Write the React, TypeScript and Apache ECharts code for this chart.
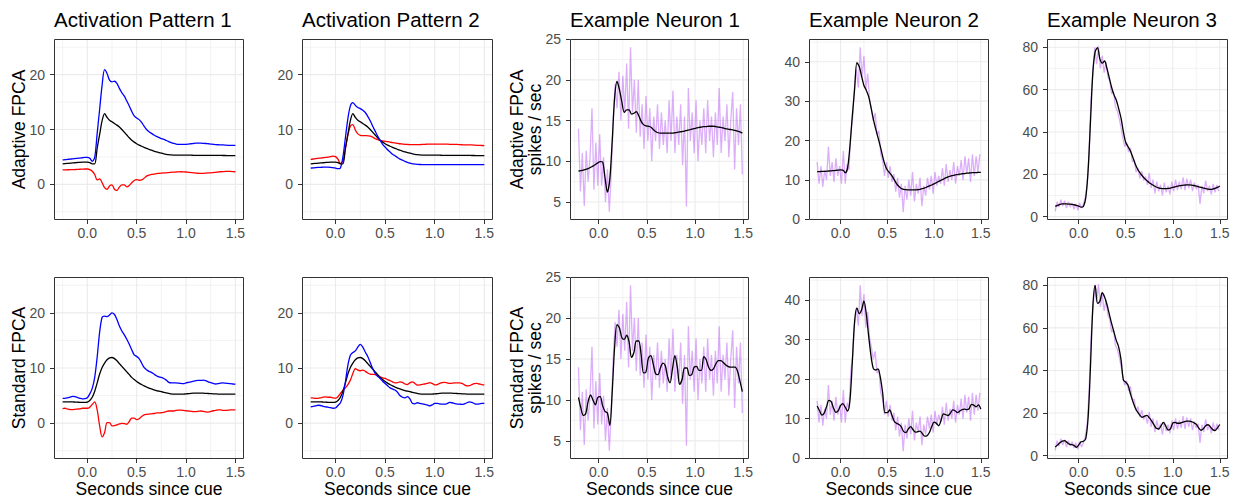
import React, { useEffect, useRef } from "react";
import * as echarts from "echarts";

// ---------- time grids ----------
const T = [-0.25, -0.225, -0.2, -0.175, -0.15, -0.125, -0.1, -0.075, -0.05, -0.025, 0, 0.025, 0.05, 0.075, 0.1, 0.125, 0.15, 0.175, 0.2, 0.225, 0.25, 0.275, 0.3, 0.325, 0.35, 0.375, 0.4, 0.425, 0.45, 0.475, 0.5, 0.525, 0.55, 0.575, 0.6, 0.625, 0.65, 0.675, 0.7, 0.725, 0.75, 0.775, 0.8, 0.825, 0.85, 0.875, 0.9, 0.925, 0.95, 0.975, 1, 1.025, 1.05, 1.075, 1.1, 1.125, 1.15, 1.175, 1.2, 1.225, 1.25, 1.275, 1.3, 1.325, 1.35, 1.375, 1.4, 1.425, 1.45, 1.475, 1.5];
const T1 = [-0.21, -0.185, -0.16, -0.135, -0.11, -0.085, -0.06, -0.035, -0.01, 0.015, 0.04, 0.065, 0.09, 0.115, 0.14, 0.165, 0.19, 0.215, 0.24, 0.265, 0.29, 0.315, 0.34, 0.365, 0.39, 0.415, 0.44, 0.465, 0.49, 0.515, 0.54, 0.565, 0.59, 0.615, 0.64, 0.665, 0.69, 0.715, 0.74, 0.765, 0.79, 0.815, 0.84, 0.865, 0.89, 0.915, 0.94, 0.965, 0.99, 1.015, 1.04, 1.065, 1.09, 1.115, 1.14, 1.165, 1.19, 1.215, 1.24, 1.265, 1.29, 1.315, 1.34, 1.365, 1.39, 1.415, 1.44, 1.465, 1.49];
const TR = [-0.25, -0.23, -0.21, -0.19, -0.17, -0.15, -0.13, -0.11, -0.09, -0.07, -0.05, -0.03, -0.01, 0.01, 0.03, 0.05, 0.07, 0.09, 0.11, 0.13, 0.15, 0.17, 0.19, 0.21, 0.23, 0.25, 0.27, 0.29, 0.31, 0.33, 0.35, 0.37, 0.39, 0.41, 0.43, 0.45, 0.47, 0.49, 0.51, 0.53, 0.55, 0.57, 0.59, 0.61, 0.63, 0.65, 0.67, 0.69, 0.71, 0.73, 0.75, 0.77, 0.79, 0.81, 0.83, 0.85, 0.87, 0.89, 0.91, 0.93, 0.95, 0.97, 0.99, 1.01, 1.03, 1.05, 1.07, 1.09, 1.11, 1.13, 1.15, 1.17, 1.19, 1.21, 1.23, 1.25, 1.27, 1.29, 1.31, 1.33, 1.35, 1.37, 1.39, 1.41, 1.43, 1.45, 1.47, 1.49];
const TR1 = [-0.21, -0.19, -0.17, -0.15, -0.13, -0.11, -0.09, -0.07, -0.05, -0.03, -0.01, 0.01, 0.03, 0.05, 0.07, 0.09, 0.11, 0.13, 0.15, 0.17, 0.19, 0.21, 0.23, 0.25, 0.27, 0.29, 0.31, 0.33, 0.35, 0.37, 0.39, 0.41, 0.43, 0.45, 0.47, 0.49, 0.51, 0.53, 0.55, 0.57, 0.59, 0.61, 0.63, 0.65, 0.67, 0.69, 0.71, 0.73, 0.75, 0.77, 0.79, 0.81, 0.83, 0.85, 0.87, 0.89, 0.91, 0.93, 0.95, 0.97, 0.99, 1.01, 1.03, 1.05, 1.07, 1.09, 1.11, 1.13, 1.15, 1.17, 1.19, 1.21, 1.23, 1.25, 1.27, 1.29, 1.31, 1.33, 1.35, 1.37, 1.39, 1.41, 1.43, 1.45, 1.47, 1.49];

// ---------- activation patterns: Adaptive FPCA ----------
const BLACK_ADAPT = [3.75, 3.78, 3.82, 3.86, 3.9, 3.94, 3.98, 4.02, 4.05, 4.07, 4.05, 3.95, 3.75, 3.75, 6.6, 9.1, 11.6, 12.9, 12.2, 11.7, 11.4, 11.1, 10.8, 10.45, 10.0, 9.5, 9.0, 8.5, 8.05, 7.7, 7.4, 7.15, 6.95, 6.75, 6.55, 6.38, 6.22, 6.07, 5.93, 5.8, 5.68, 5.57, 5.48, 5.41, 5.36, 5.33, 5.32, 5.32, 5.32, 5.32, 5.32, 5.31, 5.31, 5.3, 5.3, 5.3, 5.3, 5.3, 5.3, 5.29, 5.29, 5.28, 5.28, 5.27, 5.27, 5.26, 5.26, 5.25, 5.25, 5.24, 5.24];
const BLUE_ADAPT1 = [4.45, 4.5, 4.55, 4.6, 4.65, 4.7, 4.75, 4.8, 4.85, 4.9, 4.9, 4.75, 4.2, 4.9, 9.3, 13.7, 18.1, 20.9, 20.2, 19.0, 18.7, 18.8, 18.4, 17.5, 16.7, 16.1, 15.2, 14.3, 13.3, 12.5, 12.1, 11.8, 11.3, 10.6, 10.0, 9.6, 9.3, 9.0, 8.75, 8.55, 8.35, 8.2, 8.0, 7.8, 7.6, 7.45, 7.35, 7.3, 7.3, 7.3, 7.3, 7.35, 7.4, 7.45, 7.5, 7.5, 7.5, 7.48, 7.45, 7.4, 7.35, 7.3, 7.25, 7.22, 7.2, 7.18, 7.15, 7.12, 7.1, 7.1, 7.1];
const RED_ADAPT1 = [2.65, 2.65, 2.66, 2.67, 2.68, 2.7, 2.72, 2.75, 2.77, 2.8, 2.8, 2.7, 2.4, 1.8, 0.8, 1.0, 0.3, -0.6, -0.9, -0.3, -0.1, -0.9, -1.1, -0.5, -0.1, -0.1, -0.45, -0.2, 0.3, 0.7, 0.85, 0.75, 0.8, 1.1, 1.5, 1.7, 1.8, 1.88, 1.95, 2.0, 2.05, 2.08, 2.1, 2.15, 2.2, 2.22, 2.25, 2.28, 2.3, 2.28, 2.25, 2.2, 2.15, 2.1, 2.05, 2.02, 2.0, 2.0, 2.05, 2.08, 2.1, 2.15, 2.2, 2.25, 2.3, 2.33, 2.35, 2.35, 2.35, 2.33, 2.3];
const RED_ADAPT2 = [4.55, 4.62, 4.7, 4.75, 4.8, 4.85, 4.9, 4.97, 5.05, 5.15, 5.05, 4.6, 3.8, 4.2, 6.5, 9.0, 10.6, 10.9, 9.9, 9.2, 8.95, 8.9, 8.9, 8.85, 8.8, 8.6, 8.35, 8.15, 8.0, 7.92, 7.85, 7.78, 7.7, 7.62, 7.55, 7.48, 7.4, 7.35, 7.3, 7.27, 7.25, 7.25, 7.25, 7.25, 7.25, 7.27, 7.3, 7.32, 7.35, 7.35, 7.35, 7.35, 7.35, 7.35, 7.35, 7.33, 7.3, 7.3, 7.3, 7.28, 7.25, 7.22, 7.2, 7.2, 7.2, 7.18, 7.15, 7.12, 7.1, 7.08, 7.05];
const BLUE_ADAPT2 = [2.95, 3.0, 3.05, 3.08, 3.1, 3.13, 3.15, 3.13, 3.1, 3.05, 2.95, 2.85, 3.0, 5.0, 8.5, 12.0, 14.3, 14.9, 14.4, 14.0, 13.8, 13.5, 13.1, 12.4, 11.6, 10.6, 9.7, 8.8, 8.0, 7.3, 6.8, 6.3, 5.9, 5.5, 5.2, 4.9, 4.6, 4.4, 4.2, 4.0, 3.85, 3.75, 3.7, 3.65, 3.62, 3.6, 3.6, 3.6, 3.6, 3.6, 3.6, 3.6, 3.6, 3.6, 3.6, 3.6, 3.6, 3.6, 3.6, 3.6, 3.6, 3.6, 3.6, 3.6, 3.6, 3.6, 3.6, 3.6, 3.6, 3.6, 3.6];

// ---------- activation patterns: Standard FPCA ----------
const BLACK_STD = [3.85, 3.85, 3.85, 3.85, 3.85, 3.83, 3.8, 3.78, 3.75, 3.75, 3.8, 4.1, 4.7, 5.8, 7.3, 8.9, 10.1, 10.9, 11.5, 11.85, 11.9, 11.7, 11.3, 10.8, 10.3, 9.8, 9.3, 8.8, 8.3, 7.9, 7.55, 7.25, 7.0, 6.75, 6.55, 6.35, 6.2, 6.05, 5.9, 5.8, 5.7, 5.6, 5.5, 5.4, 5.3, 5.25, 5.25, 5.25, 5.25, 5.28, 5.3, 5.35, 5.4, 5.43, 5.45, 5.45, 5.45, 5.43, 5.4, 5.38, 5.35, 5.32, 5.3, 5.28, 5.25, 5.25, 5.25, 5.25, 5.25, 5.25, 5.25];
const BLUE_STD1 = [4.5, 4.5, 4.6, 4.7, 4.85, 4.8, 4.65, 4.5, 4.4, 4.45, 4.6, 5.3, 6.3, 8.3, 12.0, 16.5, 19.2, 19.4, 19.3, 19.6, 20.0, 19.7, 18.8, 17.6, 16.7, 16.0, 15.2, 14.3, 13.3, 12.4, 12.1, 11.7, 10.9, 10.1, 9.7, 9.4, 9.2, 8.9, 8.6, 8.4, 8.3, 8.1, 7.8, 7.4, 7.3, 7.3, 7.3, 7.25, 7.2, 7.15, 7.3, 7.4, 7.5, 7.6, 7.7, 7.75, 7.75, 7.8, 7.7, 7.5, 7.35, 7.2, 7.1, 7.15, 7.25, 7.3, 7.25, 7.2, 7.15, 7.1, 7.05];
const RED_STD1 = [2.65, 2.7, 2.55, 2.45, 2.45, 2.5, 2.55, 2.6, 2.7, 2.7, 2.7, 2.9, 3.4, 3.85, 2.4, -0.5, -2.5, -1.7, 0.1, 0.1, -0.5, -0.45, -0.3, -0.15, -0.05, -0.1, -0.2, 0.3, 0.9, 0.9, 0.65, 0.8, 1.2, 1.5, 1.6, 1.65, 1.7, 1.75, 1.85, 1.85, 1.9, 1.95, 2.1, 2.2, 2.2, 2.2, 2.3, 2.35, 2.35, 2.3, 2.25, 2.2, 2.15, 2.1, 2.1, 2.15, 2.2, 2.15, 2.05, 2.0, 2.1, 2.25, 2.3, 2.4, 2.4, 2.3, 2.3, 2.35, 2.4, 2.4, 2.4];
const RED_STD2 = [4.6, 4.55, 4.5, 4.5, 4.6, 4.7, 4.75, 4.7, 4.7, 4.6, 4.55, 4.8, 5.4, 6.0, 6.4, 7.0, 7.8, 9.0, 9.9, 9.6, 9.5, 9.6, 9.4, 9.1, 8.9, 8.85, 8.8, 8.6, 8.4, 8.2, 8.1, 7.9, 7.7, 7.5, 7.3, 7.35, 7.5, 7.4, 7.1, 7.0, 7.3, 7.5, 7.2, 6.9, 6.95, 7.05, 7.1, 7.2, 7.35, 7.2, 6.95, 7.0, 7.2, 7.35, 7.4, 7.3, 7.2, 7.25, 7.3, 7.3, 7.3, 7.2, 6.95, 6.75, 6.8, 7.0, 7.15, 7.2, 7.1, 7.0, 6.95];
const BLUE_STD2 = [2.95, 3.05, 3.15, 3.25, 3.2, 3.05, 2.95, 2.9, 2.8, 2.7, 2.75, 3.2, 3.7, 5.0, 7.5, 10.5, 12.3, 12.8, 13.1, 13.8, 14.3, 13.8, 12.9, 12.1, 11.0, 9.9, 9.0, 8.5, 8.1, 7.6, 7.2, 6.8, 6.4, 6.2, 6.0, 5.6, 5.0, 4.7, 4.6, 4.8, 4.4, 3.6, 3.5, 3.7, 3.6, 3.5, 3.4, 3.3, 3.15, 3.3, 3.6, 3.6, 3.5, 3.45, 3.45, 3.55, 3.75, 3.7, 3.55, 3.45, 3.45, 3.4, 3.5, 3.7, 3.85, 3.75, 3.55, 3.45, 3.5, 3.6, 3.6];

// ---------- example neurons: raw binned rates (spikes / sec) ----------
const RAW_N1 = [14.0, 6.3, 11.0, 4.5, 11.3, 7.5, 10.5, 16.5, 6.5, 12.3, 7.0, 13.3, 7.0, 10.5, 5.0, 9.0, 3.8, 8.5, 15.0, 19.5, 16.5, 21.0, 15.0, 20.5, 16.0, 22.0, 14.0, 24.0, 16.0, 20.0, 13.5, 20.0, 13.0, 17.0, 11.5, 18.0, 12.5, 16.5, 10.0, 15.5, 12.5, 17.0, 11.5, 16.0, 12.0, 15.0, 11.0, 17.5, 12.5, 18.7, 11.0, 15.5, 12.0, 17.0, 9.5, 15.5, 4.4, 19.0, 12.5, 16.0, 11.0, 17.5, 10.0, 15.0, 12.0, 16.5, 11.0, 17.5, 12.5, 15.5, 10.5, 16.0, 12.0, 19.0, 11.0, 15.5, 12.5, 17.0, 10.5, 15.0, 18.5, 9.0, 16.5, 12.0, 17.0, 8.4];
const RAW_N2 = [14.5, 9.0, 13.5, 8.2, 12.5, 10.0, 18.5, 11.0, 14.5, 9.5, 15.5, 11.0, 13.5, 9.0, 17.3, 9.0, 14.0, 12.5, 22.0, 26.0, 34.0, 38.0, 33.5, 43.7, 36.0, 41.5, 33.0, 37.0, 30.5, 28.0, 25.0, 27.0, 21.5, 22.5, 16.5, 15.0, 11.0, 14.5, 10.5, 13.5, 9.5, 11.5, 7.0, 10.5, 5.5, 9.0, 1.8, 8.5, 5.0, 10.0, 6.0, 12.0, 4.5, 9.0, 6.5, 10.5, 3.3, 8.5, 6.0, 10.5, 7.5, 11.0, 6.5, 12.0, 8.5, 11.0, 9.0, 13.0, 8.5, 14.0, 9.5, 12.5, 10.0, 14.5, 9.0, 13.5, 11.0, 15.0, 10.0, 16.0, 11.5, 15.5, 9.5, 16.5, 11.0, 16.0, 12.0, 16.5];
const RAW_N3 = [2.5, 7.0, 4.5, 8.0, 5.0, 7.5, 4.0, 7.0, 4.5, 6.5, 3.5, 6.0, 3.0, 6.5, 4.0, 6.0, 9.0, 15.0, 30.0, 55.0, 68.0, 80.0, 72.0, 80.5, 70.0, 76.0, 68.0, 73.0, 66.0, 64.0, 58.0, 59.0, 52.0, 50.0, 46.5, 42.0, 37.0, 33.0, 35.0, 30.5, 32.5, 26.0, 26.5, 21.0, 23.0, 18.0, 21.5, 17.0, 19.0, 15.0, 20.5, 13.5, 17.5, 11.0, 16.5, 12.0, 15.0, 10.0, 16.0, 11.5, 14.5, 10.5, 16.5, 12.0, 17.5, 12.5, 16.5, 13.0, 18.5, 12.5, 18.0, 13.5, 17.5, 12.0, 16.0, 13.0, 15.0, 6.0, 14.5, 11.0, 17.0, 12.0, 14.5, 10.5, 15.5, 11.5, 15.0, 12.0];

// ---------- example neurons: fitted curves ----------
const FIT_N1_ADAPT = [8.8, 8.85, 8.9, 9.0, 9.1, 9.25, 9.4, 9.6, 9.8, 9.95, 9.9, 8.0, 6.2, 7.8, 12.5, 17.8, 19.8, 18.8, 17.3, 16.0, 16.3, 16.3, 15.8, 15.9, 16.1, 15.6, 14.9, 14.5, 14.35, 14.3, 14.2, 13.9, 13.65, 13.5, 13.45, 13.45, 13.45, 13.45, 13.45, 13.45, 13.5, 13.55, 13.6, 13.65, 13.7, 13.8, 13.85, 13.95, 14.0, 14.1, 14.15, 14.2, 14.25, 14.25, 14.3, 14.3, 14.3, 14.25, 14.2, 14.15, 14.1, 14.0, 13.95, 13.9, 13.85, 13.8, 13.7, 13.6, 13.45];
const FIT_N1_STD = [10.3, 9.0, 8.1, 8.3, 9.8, 10.6, 10.0, 9.4, 10.3, 10.4, 9.3, 8.6, 8.4, 6.9, 11.0, 16.5, 19.2, 18.8, 17.6, 17.4, 17.9, 17.1, 15.2, 15.8, 17.2, 17.2, 15.5, 13.3, 13.4, 15.1, 15.4, 14.4, 13.2, 13.1, 13.9, 14.5, 14.2, 12.8, 12.1, 13.8, 15.4, 14.0, 11.9, 12.5, 13.9, 13.9, 13.0, 13.1, 14.0, 14.1, 13.6, 13.6, 15.3, 14.9, 14.0, 13.6, 13.8, 14.4, 14.8, 14.8, 14.6, 14.3, 14.1, 14.0, 14.0, 14.0, 13.5, 12.3, 11.0];
const FIT_N2_ADAPT = [12.1, 12.1, 12.15, 12.15, 12.2, 12.25, 12.3, 12.35, 12.4, 12.5, 12.55, 12.5, 11.8, 13.0, 18.5, 26.0, 33.0, 39.8, 38.8, 36.3, 34.0, 32.8, 31.2, 28.5, 25.5, 23.0, 20.8, 18.5, 16.0, 13.8, 12.5, 11.8, 11.0, 10.0, 9.0, 8.3, 7.8, 7.6, 7.5, 7.45, 7.45, 7.45, 7.45, 7.5, 7.6, 7.75, 7.95, 8.2, 8.45, 8.7, 9.0, 9.3, 9.6, 9.9, 10.2, 10.5, 10.75, 10.95, 11.1, 11.25, 11.35, 11.45, 11.55, 11.6, 11.7, 11.75, 11.8, 11.85, 11.85, 11.9, 11.9];
const FIT_N2_STD = [13.2, 12.0, 10.9, 11.4, 13.0, 14.6, 14.3, 12.6, 11.6, 12.0, 13.3, 13.8, 12.9, 11.9, 14.5, 24.0, 34.5, 38.0, 36.5, 37.5, 39.7, 36.5, 31.0, 26.0, 22.7, 22.3, 22.6, 20.5, 16.5, 11.5, 11.5, 12.2, 10.8, 9.3, 8.8, 8.5, 7.9, 6.7, 6.5, 7.4, 8.0, 7.2, 6.6, 6.7, 6.85, 6.2, 5.6, 5.7, 6.5, 8.0, 9.1, 8.8, 8.2, 9.6, 11.2, 11.0, 10.8, 11.4, 12.2, 12.0, 11.5, 11.9, 12.3, 12.4, 12.3, 12.5, 13.6, 13.4, 13.0, 13.5, 12.4];
const FIT_N3_ADAPT = [4.8, 5.3, 5.8, 6.0, 6.0, 6.0, 5.9, 5.8, 5.6, 5.3, 5.0, 4.5, 4.8, 9.0, 22.0, 45.0, 68.0, 78.0, 79.8, 74.5, 72.5, 73.5, 70.0, 65.5, 61.0, 57.5, 55.0, 51.0, 46.5, 40.0, 35.0, 33.0, 31.0, 28.0, 25.0, 22.5, 20.8, 19.3, 18.0, 17.0, 16.0, 15.3, 14.6, 14.0, 13.6, 13.3, 13.2, 13.2, 13.3, 13.5, 13.8, 14.1, 14.4, 14.6, 14.8, 14.9, 15.0, 15.0, 14.9, 14.7, 14.4, 14.1, 13.8, 13.5, 13.2, 13.0, 12.9, 13.0, 13.3, 13.8, 14.5];
const FIT_N3_STD = [4.0, 5.0, 6.0, 6.8, 7.0, 6.2, 5.4, 5.1, 4.8, 3.9, 5.0, 6.5, 6.7, 8.0, 18.0, 42.0, 70.0, 80.0, 71.5, 72.5, 76.5, 74.5, 71.0, 66.5, 62.0, 58.0, 54.0, 51.0, 45.0, 35.5, 34.5, 33.0, 29.0, 25.5, 22.5, 20.5, 19.0, 18.0, 18.5, 18.9, 17.8, 16.3, 14.5, 12.8, 12.5, 14.0, 15.6, 14.0, 12.0, 12.5, 15.3, 15.6, 15.2, 15.2, 15.6, 16.0, 16.2, 16.2, 16.0, 15.4, 14.7, 13.0, 11.9, 12.6, 14.0, 14.5, 13.5, 12.2, 11.8, 13.0, 14.6];

// ---------- axes / labels ----------
const TITLES = ["Activation Pattern 1", "Activation Pattern 2", "Example Neuron 1", "Example Neuron 2", "Example Neuron 3"];
const ROW_NAMES = ["Adaptive FPCA", "Standard FPCA"];
const RATE_UNIT = "spikes / sec";
const X_TITLE = "Seconds since cue";
const X_MAJOR = [0, 0.5, 1, 1.5];
const X_MINOR = [-0.25, 0.25, 0.75, 1.25];
const X_RANGE = [[-0.3375, 1.5875], [-0.3375, 1.5875], [-0.298, 1.559], [-0.3375, 1.5875], [-0.3375, 1.5875]];
const Y_RANGE = [[-6.5, 26.5], [-6.5, 26.5], [2.78, 25.02], [-0.2, 45.8], [-1.6, 83.9]];
const Y_MAJOR = [[0, 10, 20], [0, 10, 20], [5, 10, 15, 20, 25], [0, 10, 20, 30, 40], [0, 20, 40, 60, 80]];
const Y_MINOR = [[-5, 5, 15, 25], [-5, 5, 15, 25], [7.5, 12.5, 17.5, 22.5], [5, 15, 25, 35, 45], [10, 30, 50, 70]];

// ---------- layout (px) ----------
const COL_LEFT = [54, 302, 570, 809, 1047];
const COL_WIDTH = [190, 191, 179, 180, 181];
const ROW_TOP = [39, 277];
const ROW_HEIGHT = [181, 182];
const FONT = '"Liberation Sans", Arial, Helvetica, sans-serif';

type Kind = "black" | "red" | "blue" | "raw";
const STYLE: Record<Kind, { color: string; width: number; smooth: number | boolean; z: number }> = {
  raw: { color: "rgba(160,32,240,0.36)", width: 1.3, smooth: false, z: 2 },
  red: { color: "#FF0000", width: 1.3, smooth: 0.3, z: 3 },
  black: { color: "#000000", width: 1.3, smooth: 0.3, z: 4 },
  blue: { color: "#0000FF", width: 1.3, smooth: 0.3, z: 5 },
};

type LineDef = { t: number[]; v: number[]; kind: Kind };
const PANEL_LINES: LineDef[][][] = [
  [
    [{ t: T, v: RED_ADAPT1, kind: "red" }, { t: T, v: BLACK_ADAPT, kind: "black" }, { t: T, v: BLUE_ADAPT1, kind: "blue" }],
    [{ t: T, v: RED_ADAPT2, kind: "red" }, { t: T, v: BLACK_ADAPT, kind: "black" }, { t: T, v: BLUE_ADAPT2, kind: "blue" }],
    [{ t: TR1, v: RAW_N1, kind: "raw" }, { t: T1, v: FIT_N1_ADAPT, kind: "black" }],
    [{ t: TR, v: RAW_N2, kind: "raw" }, { t: T, v: FIT_N2_ADAPT, kind: "black" }],
    [{ t: TR, v: RAW_N3, kind: "raw" }, { t: T, v: FIT_N3_ADAPT, kind: "black" }],
  ],
  [
    [{ t: T, v: RED_STD1, kind: "red" }, { t: T, v: BLACK_STD, kind: "black" }, { t: T, v: BLUE_STD1, kind: "blue" }],
    [{ t: T, v: RED_STD2, kind: "red" }, { t: T, v: BLACK_STD, kind: "black" }, { t: T, v: BLUE_STD2, kind: "blue" }],
    [{ t: TR1, v: RAW_N1, kind: "raw" }, { t: T1, v: FIT_N1_STD, kind: "black" }],
    [{ t: TR, v: RAW_N2, kind: "raw" }, { t: T, v: FIT_N2_STD, kind: "black" }],
    [{ t: TR, v: RAW_N3, kind: "raw" }, { t: T, v: FIT_N3_STD, kind: "black" }],
  ],
];

function pts(t: number[], v: number[]) {
  const n = Math.min(t.length, v.length);
  const out: number[][] = [];
  for (let i = 0; i < n; i++) out.push([t[i], v[i]]);
  return out;
}

function textEl(text: string, x: number, y: number, size: number, align: string, rotate = 0, color = "#000") {
  return {
    type: "text",
    x,
    y,
    rotation: rotate,
    z: 100,
    silent: true,
    style: {
      text,
      x: 0,
      y: 0,
      fill: color,
      font: `${size}px ${FONT}`,
      textAlign: align,
      textVerticalAlign: "middle",
      align,
      verticalAlign: "middle",
    },
  };
}

function buildOption() {
  const grid: any[] = [];
  const xAxis: any[] = [];
  const yAxis: any[] = [];
  const series: any[] = [];
  const graphic: any[] = [];

  for (let r = 0; r < 2; r++) {
    for (let c = 0; c < 5; c++) {
      const idx = r * 5 + c;
      const [xmin, xmax] = X_RANGE[c];
      const [ymin, ymax] = Y_RANGE[c];
      grid.push({
        left: COL_LEFT[c],
        top: ROW_TOP[r],
        width: COL_WIDTH[c],
        height: ROW_HEIGHT[r],
        containLabel: false,
        outerBoundsMode: "none",
        show: false,
      });
      xAxis.push({
        type: "value",
        gridIndex: idx,
        min: xmin,
        max: xmax,
        axisLine: { show: false, onZero: false },
        splitLine: { show: false },
        minorSplitLine: { show: false },
        axisTick: { show: true, length: 4, customValues: X_MAJOR, lineStyle: { color: "#333333", width: 1 } },
        axisLabel: {
          show: true,
          customValues: X_MAJOR,
          formatter: (v: number) => v.toFixed(1),
          color: "#4D4D4D",
          fontSize: 14,
          fontFamily: FONT,
          margin: 6,
        },
      });
      yAxis.push({
        type: "value",
        gridIndex: idx,
        min: ymin,
        max: ymax,
        axisLine: { show: false, onZero: false },
        splitLine: { show: false },
        minorSplitLine: { show: false },
        axisTick: { show: true, length: 4, customValues: Y_MAJOR[c], lineStyle: { color: "#333333", width: 1 } },
        axisLabel: {
          show: true,
          customValues: Y_MAJOR[c],
          formatter: (v: number) => String(v),
          color: "#4D4D4D",
          fontSize: 14,
          fontFamily: FONT,
          margin: 9,
        },
      });

      const gridLine = (data: number[][], minor: boolean) => ({
        type: "line",
        xAxisIndex: idx,
        yAxisIndex: idx,
        data,
        symbol: "none",
        silent: true,
        z: 1,
        animation: false,
        lineStyle: { color: "#EBEBEB", width: minor ? 0.6 : 1.1 },
      });
      X_MINOR.forEach((x) => { if (x > xmin && x < xmax) series.push(gridLine([[x, ymin], [x, ymax]], true)); });
      Y_MINOR[c].forEach((y) => { if (y > ymin && y < ymax) series.push(gridLine([[xmin, y], [xmax, y]], true)); });
      X_MAJOR.forEach((x) => series.push(gridLine([[x, ymin], [x, ymax]], false)));
      Y_MAJOR[c].forEach((y) => series.push(gridLine([[xmin, y], [xmax, y]], false)));

      PANEL_LINES[r][c].forEach((ln) => {
        const st = STYLE[ln.kind];
        series.push({
          type: "line",
          xAxisIndex: idx,
          yAxisIndex: idx,
          data: pts(ln.t, ln.v),
          symbol: "none",
          silent: true,
          smooth: st.smooth,
          z: st.z,
          animation: false,
          lineStyle: { color: st.color, width: st.width },
        });
      });

      graphic.push({
        type: "rect",
        z: 90,
        silent: true,
        shape: { x: COL_LEFT[c] + 0.5, y: ROW_TOP[r] + 0.5, width: COL_WIDTH[c] - 1, height: ROW_HEIGHT[r] - 1 },
        style: { fill: "none", stroke: "#333333", lineWidth: 1 },
      });
    }
  }

  // titles
  for (let c = 0; c < 5; c++) {
    graphic.push(textEl(TITLES[c], COL_LEFT[c], 19, 20.5, "left"));
    graphic.push(textEl(X_TITLE, COL_LEFT[c] + COL_WIDTH[c] / 2, 489, 17.5, "center"));
  }
  // y titles
  for (let r = 0; r < 2; r++) {
    const cy = ROW_TOP[r] + ROW_HEIGHT[r] / 2;
    graphic.push(textEl(ROW_NAMES[r], 19, cy, 17.5, "center", Math.PI / 2));
    graphic.push(textEl(ROW_NAMES[r], 517, cy, 17.5, "center", Math.PI / 2));
    graphic.push(textEl(RATE_UNIT, 535, cy, 17.5, "center", Math.PI / 2));
  }

  return {
    animation: false,
    backgroundColor: "#FFFFFF",
    grid,
    xAxis,
    yAxis,
    series,
    graphic,
  };
}

export default function App() {
  const ref = useRef<HTMLDivElement>(null);
  useEffect(() => {
    if (!ref.current) return;
    const chart = echarts.init(ref.current, null, { renderer: "svg" });
    chart.setOption(buildOption() as any);
    return () => chart.dispose();
  }, []);
  return (
    <div
      ref={ref}
      style={{ position: "absolute", left: 0, top: 0, width: 1239, height: 502, background: "#FFFFFF" }}
    />
  );
}
